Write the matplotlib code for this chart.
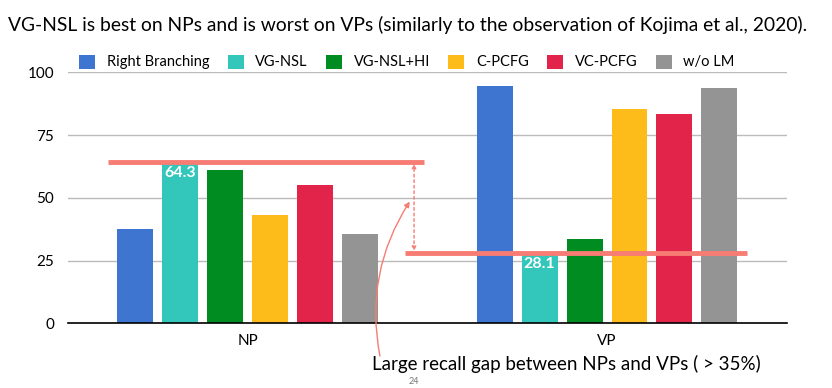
import matplotlib
matplotlib.use("Agg")
import matplotlib.pyplot as plt
from matplotlib.patches import Patch
import numpy as np

plt.rcParams['font.family'] = ['Lato', 'DejaVu Sans']

categories = ["NP", "VP"]
series_names = ["Right Branching", "VG-NSL", "VG-NSL+HI", "C-PCFG", "VC-PCFG", "w/o LM"]
series_values = {
    "Right Branching": [37.6, 94.5],
    "VG-NSL": [64.3, 28.1],
    "VG-NSL+HI": [61.1, 33.6],
    "C-PCFG": [43.1, 85.4],
    "VC-PCFG": [55.1, 83.4],
    "w/o LM": [35.6, 93.8],
}
colors = ["#3D75D0", "#33C6BA", "#008C21", "#FDBC19", "#E2234A", "#949494"]
yticks = [0, 25, 50, 75, 100]
title = "VG-NSL is best on NPs and is worst on VPs (similarly to the observation of Kojima et al., 2020)."
note = "Large recall gap between NPs and VPs ( > 35%)"
line_color = "#F77C74"

fig = plt.figure(figsize=(8.32, 3.88), dpi=100)
ax = fig.add_axes([68/832, 1-323.3/388, (786.7-68)/832, (323.3-72.3)/388])

x = np.arange(len(categories))
width = 0.1
step = 0.125
n = len(series_names)
for i, (name, c) in enumerate(zip(series_names, colors)):
    off = (i - (n-1)/2) * step
    ax.bar(x + off, series_values[name], width, color=c, zorder=3)

ax.set_xlim(-0.5, 1.5)
ax.set_ylim(0, 100)
ax.set_yticks(yticks)
ax.set_yticklabels([str(t) for t in yticks], fontsize=11)
ax.set_xticks(x)
ax.set_xticklabels(categories, fontsize=11)
ax.tick_params(length=0, pad=8)
ax.tick_params(axis='y', pad=10)
for s in ["top", "right", "left"]:
    ax.spines[s].set_visible(False)
ax.spines["bottom"].set_color("black")
ax.spines["bottom"].set_linewidth(1.2)
ax.spines["bottom"].set_zorder(5)
ax.yaxis.grid(True, color="#BBBBBB", linewidth=1, zorder=0)
ax.set_axisbelow(True)

# value labels on VG-NSL bars
vg = series_values["VG-NSL"]
vg_off = (1 - (n-1)/2) * step
for xi, v in zip(x, vg):
    ax.text(xi + vg_off, v - 1.5, f"{v}", ha="center", va="top", color="white",
            fontsize=11.5, fontweight="bold", zorder=6)

# highlight lines
ax.plot([-0.389, 0.490], [vg[0], vg[0]], color=line_color, lw=3.5, zorder=6, solid_capstyle='butt')
ax.plot([0.4375, 1.389], [vg[1], vg[1]], color=line_color, lw=3.5, zorder=6, solid_capstyle='butt')

# dashed double arrow
ax.annotate("", xy=(0.463, vg[0]-0.8), xytext=(0.463, vg[1]+0.8),
            arrowprops=dict(arrowstyle="<|-|>", color=line_color, lw=1, linestyle=(0, (2, 2)),
                            mutation_scale=6, shrinkA=0, shrinkB=0), zorder=7)

# curved arrow from note
ax.annotate("", xy=(0.451, 48.5), xytext=(0.368, -13),
            arrowprops=dict(arrowstyle="-|>", color=line_color, lw=1,
                            connectionstyle="arc3,rad=-0.2", mutation_scale=8,
                            shrinkA=0, shrinkB=0),
            annotation_clip=False, zorder=7)

fig.text(8/832, 1-25/388, title, fontsize=13.85, va="center", ha="left", color="black")
fig.text(372/832, 1-364/388, note, fontsize=13.5, va="center", ha="left", color="black")
fig.text(414/832, 1-381/388, "24", fontsize=6.5, va="center", ha="center", color="#777777")

handles = [Patch(facecolor=c, edgecolor='none') for c in colors]
fig.legend(handles, series_names, loc="center left", bbox_to_anchor=(79/832, 1-62/388),
           ncol=6, frameon=False, fontsize=10.5, handlelength=1.1, handleheight=1.1,
           handletextpad=0.8, columnspacing=1.25, borderaxespad=0, borderpad=0)

fig.savefig("out.png", dpi=100)
